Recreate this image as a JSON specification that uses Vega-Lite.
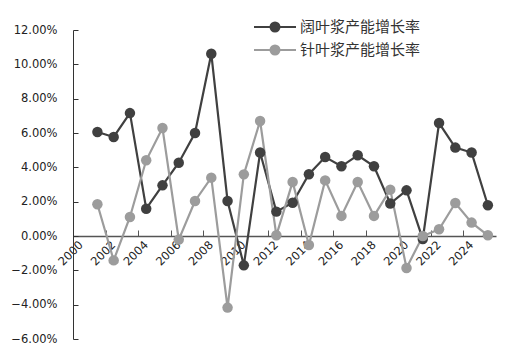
{
  "$schema": "https://vega.github.io/schema/vega-lite/v6.json",
  "width": 423,
  "height": 309,
  "autosize": {"type": "none"},
  "padding": {"left": 73, "top": 30, "right": 14, "bottom": 17},
  "background": "white",
  "config": {"view": {"stroke": null}, "font": "DejaVu Sans", "axis": {"labelOverlap": false, "labelFlush": false, "labelBound": false}},
  "data": {
    "values": [
      {"year": 2001, "series": "阔叶浆产能增长率", "value": 0.0606},
      {"year": 2002, "series": "阔叶浆产能增长率", "value": 0.0577},
      {"year": 2003, "series": "阔叶浆产能增长率", "value": 0.0716},
      {"year": 2004, "series": "阔叶浆产能增长率", "value": 0.0159},
      {"year": 2005, "series": "阔叶浆产能增长率", "value": 0.0295},
      {"year": 2006, "series": "阔叶浆产能增长率", "value": 0.0427},
      {"year": 2007, "series": "阔叶浆产能增长率", "value": 0.060},
      {"year": 2008, "series": "阔叶浆产能增长率", "value": 0.1062},
      {"year": 2009, "series": "阔叶浆产能增长率", "value": 0.0204},
      {"year": 2010, "series": "阔叶浆产能增长率", "value": -0.0171},
      {"year": 2011, "series": "阔叶浆产能增长率", "value": 0.0486},
      {"year": 2012, "series": "阔叶浆产能增长率", "value": 0.0142},
      {"year": 2013, "series": "阔叶浆产能增长率", "value": 0.0194},
      {"year": 2014, "series": "阔叶浆产能增长率", "value": 0.036},
      {"year": 2015, "series": "阔叶浆产能增长率", "value": 0.046},
      {"year": 2016, "series": "阔叶浆产能增长率", "value": 0.0406},
      {"year": 2017, "series": "阔叶浆产能增长率", "value": 0.047},
      {"year": 2018, "series": "阔叶浆产能增长率", "value": 0.0406},
      {"year": 2019, "series": "阔叶浆产能增长率", "value": 0.0189},
      {"year": 2020, "series": "阔叶浆产能增长率", "value": 0.0266},
      {"year": 2021, "series": "阔叶浆产能增长率", "value": -0.0018},
      {"year": 2022, "series": "阔叶浆产能增长率", "value": 0.0658},
      {"year": 2023, "series": "阔叶浆产能增长率", "value": 0.0515},
      {"year": 2024, "series": "阔叶浆产能增长率", "value": 0.0486},
      {"year": 2025, "series": "阔叶浆产能增长率", "value": 0.0179},
      {"year": 2001, "series": "针叶浆产能增长率", "value": 0.0185},
      {"year": 2002, "series": "针叶浆产能增长率", "value": -0.0142},
      {"year": 2003, "series": "针叶浆产能增长率", "value": 0.0111},
      {"year": 2004, "series": "针叶浆产能增长率", "value": 0.0441},
      {"year": 2005, "series": "针叶浆产能增长率", "value": 0.0629},
      {"year": 2006, "series": "针叶浆产能增长率", "value": -0.0021},
      {"year": 2007, "series": "针叶浆产能增长率", "value": 0.0204},
      {"year": 2008, "series": "针叶浆产能增长率", "value": 0.034},
      {"year": 2009, "series": "针叶浆产能增长率", "value": -0.0417},
      {"year": 2010, "series": "针叶浆产能增长率", "value": 0.0359},
      {"year": 2011, "series": "针叶浆产能增长率", "value": 0.067},
      {"year": 2012, "series": "针叶浆产能增长率", "value": 0.0004},
      {"year": 2013, "series": "针叶浆产能增长率", "value": 0.0315},
      {"year": 2014, "series": "针叶浆产能增长率", "value": -0.0052},
      {"year": 2015, "series": "针叶浆产能增长率", "value": 0.0324},
      {"year": 2016, "series": "针叶浆产能增长率", "value": 0.0117},
      {"year": 2017, "series": "针叶浆产能增长率", "value": 0.0315},
      {"year": 2018, "series": "针叶浆产能增长率", "value": 0.0117},
      {"year": 2019, "series": "针叶浆产能增长率", "value": 0.027},
      {"year": 2020, "series": "针叶浆产能增长率", "value": -0.0186},
      {"year": 2021, "series": "针叶浆产能增长率", "value": 0.0},
      {"year": 2022, "series": "针叶浆产能增长率", "value": 0.0039},
      {"year": 2023, "series": "针叶浆产能增长率", "value": 0.0192},
      {"year": 2024, "series": "针叶浆产能增长率", "value": 0.0078},
      {"year": 2025, "series": "针叶浆产能增长率", "value": 0.0004}
    ]
  },
  "encoding": {
    "x": {
      "field": "year", "type": "quantitative",
      "scale": {"domain": [1999.5, 2025.5], "nice": false, "zero": false},
      "axis": {
        "title": null, "values": [2000, 2002, 2004, 2006, 2008, 2010, 2012, 2014, 2016, 2018, 2020, 2022, 2024, 2026],
        "format": "d", "labelExpr": "datum.value > 2025 ? '' : datum.label",
        "grid": false, "tickSize": -6, "tickOffset": -8.14, "labelOffset": 8.14,
        "tickColor": "#555", "domainColor": "#555", "domainWidth": 1.5,
        "labelAngle": -45, "labelAlign": "right", "labelBaseline": "middle",
        "labelFont": "DejaVu Sans", "labelFontSize": 11.5, "labelColor": "#222",
        "labelPadding": 13, "offset": -103
      }
    },
    "y": {
      "field": "value", "type": "quantitative",
      "scale": {"domain": [-0.06, 0.12], "nice": false, "zero": false},
      "axis": {
        "title": null, "values": [-0.06, -0.04, -0.02, 0, 0.02, 0.04, 0.06, 0.08, 0.1, 0.12],
        "format": ".2%", "grid": false, "tickSize": -5, "tickColor": "#333", "domainColor": "#333",
        "labelFont": "DejaVu Sans", "labelFontSize": 11.5, "labelColor": "#222", "labelPadding": 21
      }
    },
    "color": {
      "field": "series", "type": "nominal",
      "scale": {"domain": ["阔叶浆产能增长率", "针叶浆产能增长率"], "range": ["#404040", "#9c9c9c"]},
      "legend": {
        "title": null, "orient": "none", "legendX": 191, "legendY": -14, "padding": 0,
        "symbolType": "M-2.1,0H2.1M-0.45,0A0.45,0.45 0 1,1 0.45,0A0.45,0.45 0 1,1 -0.45,0Z",
        "symbolSize": 400, "symbolStrokeWidth": 2, "labelOffset": 14, "rowPadding": 3,
        "labelFont": "Noto Sans CJK SC", "labelFontSize": 15, "labelColor": "#333",
        "encode": {"symbols": {"update": {"fill": {"scale": "color", "field": "value"}, "stroke": {"scale": "color", "field": "value"}, "opacity": {"value": 1}}}}
      }
    }
  },
  "layer": [
    {"mark": {"type": "line", "strokeWidth": 2.2}},
    {"mark": {"type": "point", "filled": true, "size": 110, "opacity": 1}}
  ]
}
